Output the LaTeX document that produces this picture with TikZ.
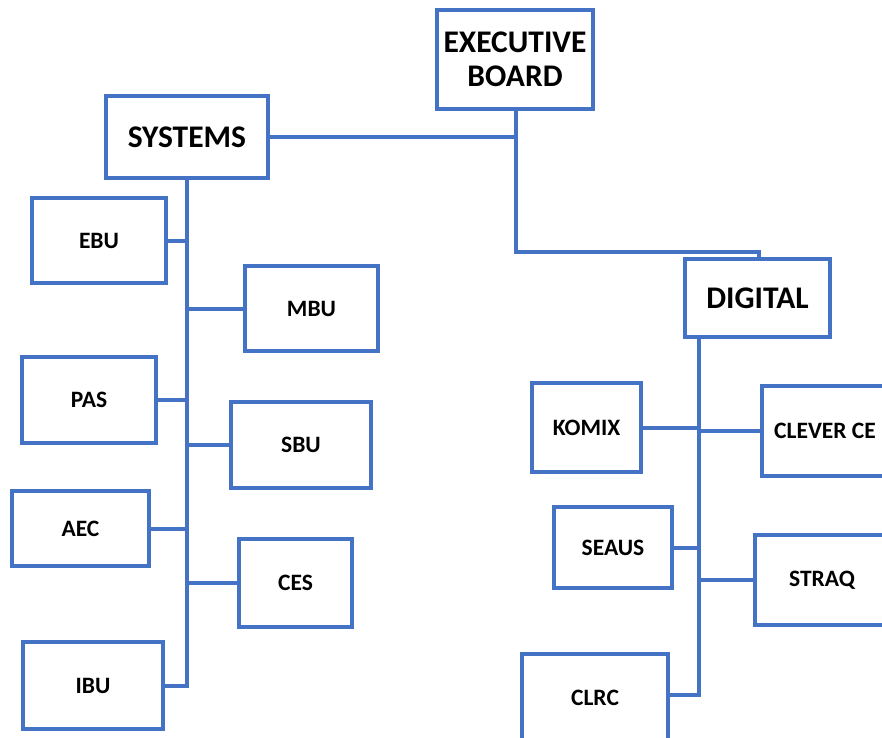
\documentclass[tikz,border=0pt]{standalone}
\usepackage{fontspec}
\setmainfont{Carlito}
\definecolor{obl}{RGB}{68,114,196}
\tikzset{
  box/.style={draw=obl, line width=4pt, fill=white, inner sep=0pt, align=center, font=\bfseries},
  big/.style={font=\fontsize{31.5}{34}\selectfont\bfseries},
  small/.style={font=\fontsize{23.5}{27}\selectfont\bfseries},
  conn/.style={draw=obl, line width=4pt}
}
\newcommand{\bx}[7]{% name, left, top, right, bottom, style, text
  \pgfmathsetmacro{\bw}{#4-#2}\pgfmathsetmacro{\bh}{#5-#3}%
  \pgfmathsetmacro{\bcx}{(#2+#4)/2}\pgfmathsetmacro{\bcy}{(#3+#5)/2}%
  \node[box,#6,minimum width=\bw pt,minimum height=\bh pt] (#1) at (\bcx,\bcy) {#7};}
\begin{document}
\begin{tikzpicture}[x=1pt,y=-1pt]
\useasboundingbox (0,0) rectangle (882,737);
\coordinate (exs) at (516,109);
\coordinate (dj) at (759,252);
\coordinate (dtrunk) at (699,337);
\coordinate (strunk) at (187,178);
\bx{exec}{437}{10}{593}{109}{big}{EXECUTIVE\\BOARD}
\bx{systems}{106}{96}{268}{178}{big}{SYSTEMS}
\bx{digital}{685}{259}{830}{337}{big}{DIGITAL}
\bx{ebu}{32}{198}{166}{283}{small}{EBU}
\bx{mbu}{245}{266}{378}{351}{small}{MBU}
\bx{pas}{22}{357}{156}{443}{small}{PAS}
\bx{sbu}{231}{402}{371}{488}{small}{SBU}
\bx{aec}{12}{491}{149}{566}{small}{AEC}
\bx{ces}{239}{539}{352}{627}{small}{CES}
\bx{ibu}{23}{642}{163}{729}{small}{IBU}
\bx{komix}{532}{383}{641}{472}{small}{KOMIX}
\bx{clever}{762}{386}{888}{476}{small}{CLEVER CE}
\bx{seaus}{554}{507}{672}{588}{small}{SEAUS}
\bx{straq}{755}{535}{889}{625}{small}{STRAQ}
\bx{clrc}{522}{654}{668}{748}{small}{\raisebox{6pt}{CLRC}}
\draw[conn] (exs) |- (systems.east);
\draw[conn] (exs) |- (dj) -- (dj |- digital.north);
\draw[conn] (strunk) |- (ibu.east);
\foreach \n in {ebu,pas,aec} \draw[conn] (\n.east) -- (\n.east -| strunk);
\foreach \n in {mbu,sbu,ces} \draw[conn] (\n.west) -- (\n.west -| strunk);
\draw[conn] (dtrunk) |- ([yshift=6pt]clrc.east);
\foreach \n in {komix,seaus} \draw[conn] (\n.east) -- (\n.east -| dtrunk);
\foreach \n in {clever,straq} \draw[conn] (\n.west) -- (\n.west -| dtrunk);
\end{tikzpicture}
\end{document}
